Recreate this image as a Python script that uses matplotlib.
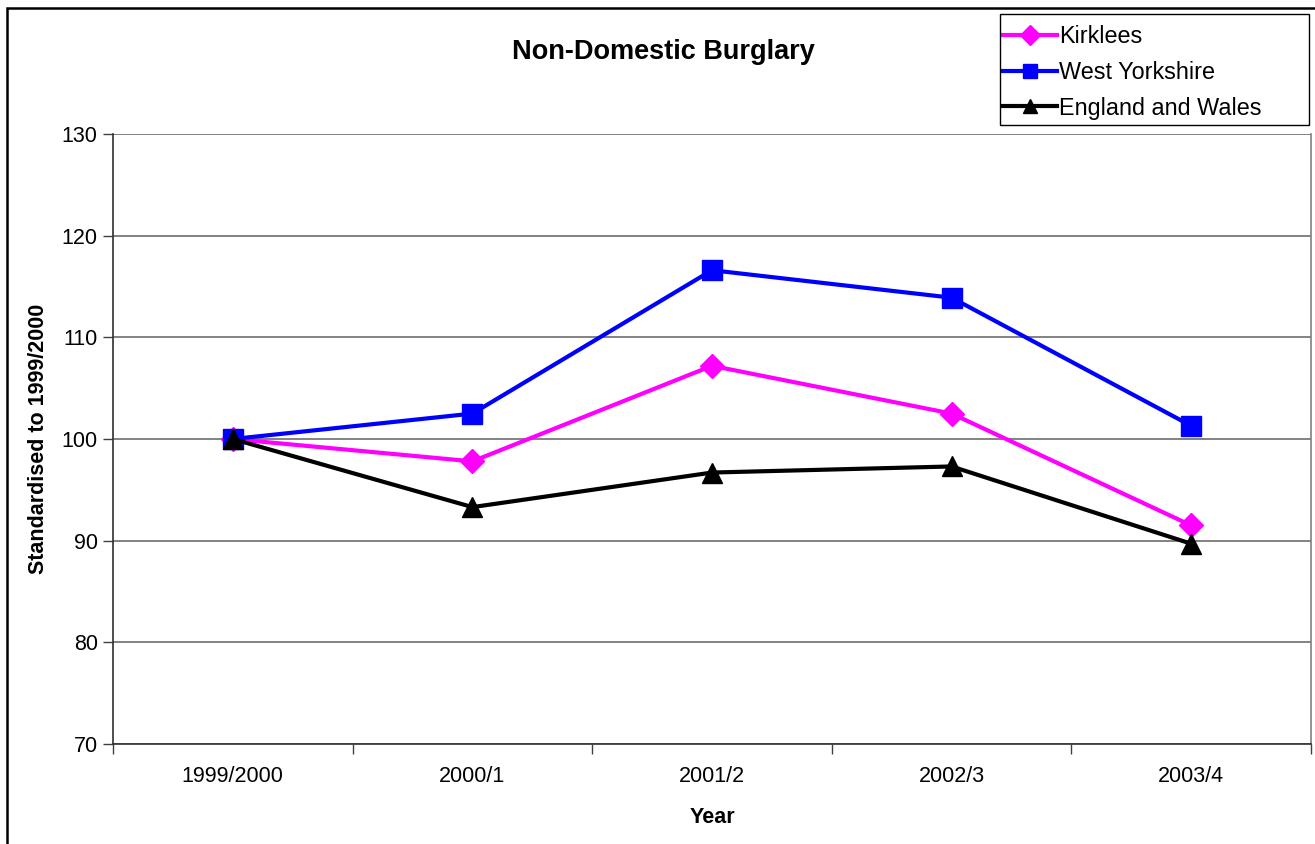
import matplotlib.pyplot as plt
from matplotlib.patches import Rectangle
import numpy as np

plt.rcParams['font.family'] = ['Liberation Sans', 'DejaVu Sans']

# Data
years = ['1999/2000', '2000/1', '2001/2', '2002/3', '2003/4']
kirklees = [100.0, 97.8, 107.2, 102.5, 91.5]
west_yorkshire = [100.0, 102.5, 116.6, 113.9, 101.3]
england_wales = [100.0, 93.3, 96.7, 97.3, 89.7]

fig = plt.figure(figsize=(13.15, 8.44), dpi=100)
ax = fig.add_axes([113 / 1315, 100 / 844, 1198 / 1315, 610 / 844])

x = np.arange(len(years))
ax.plot(x, kirklees, color='#FF00FF', lw=3, marker='D', markersize=12,
        label='Kirklees', zorder=3)
ax.plot(x, west_yorkshire, color='#0000FF', lw=3, marker='s', markersize=14,
        label='West Yorkshire', zorder=3)
ax.plot(x, england_wales, color='black', lw=3, marker='^', markersize=15,
        label='England and Wales', zorder=3)

ax.set_xlim(-0.5, len(years) - 0.5)
ax.set_ylim(70, 130)
ax.set_yticks(range(70, 131, 10))
ax.yaxis.grid(True, color='#606060', lw=1.1)
ax.set_axisbelow(True)

# category labels between boundary ticks
ax.set_xticks(np.arange(-0.5, len(years), 1.0))
ax.set_xticklabels([])
ax.set_xticks(x, minor=True)
ax.set_xticklabels(years, minor=True)
ax.tick_params(axis='x', which='minor', length=0, labelsize=15.5, pad=16)
ax.tick_params(axis='x', which='major', length=7, width=1, color='#404040')
ax.tick_params(axis='y', length=7, width=1, color='#404040', labelsize=15.5, pad=4)

ax.spines['top'].set_visible(False)
ax.spines['right'].set_color('#808080')
ax.spines['right'].set_linewidth(1.2)
for s in ['left', 'bottom']:
    ax.spines[s].set_color('#303030')
    ax.spines[s].set_linewidth(1.2)

ax.set_xlabel('Year', fontsize=15.5, fontweight='bold', labelpad=14)
ax.set_ylabel('Standardised to 1999/2000', fontsize=15.5, fontweight='bold', labelpad=9)

fig.text(663 / 1315, 1 - 52 / 844, 'Non-Domestic Burglary', fontsize=19.5,
         fontweight='bold', ha='center', va='center')

# legend without its own frame; box drawn separately (fixed width like the original)
leg = ax.legend(loc='upper left', bbox_to_anchor=(1003 / 1315, 1 - 25 / 844),
                bbox_transform=fig.transFigure, fontsize=16.8, frameon=False,
                handlelength=2.3, handletextpad=0.1, borderpad=0.0,
                labelspacing=0.55, borderaxespad=0)
for h in leg.legend_handles:
    h.set_markersize(10)
fig.patches.append(Rectangle((1000 / 1315, 1 - 125 / 844), 309 / 1315, 111 / 844,
                             transform=fig.transFigure, fill=False,
                             edgecolor='black', lw=1.0))

# chart area border (cropped at right and bottom)
fig.patches.append(Rectangle((7 / 1315, -0.1), 1.2, 1.1 - 8 / 844,
                             transform=fig.transFigure, fill=False,
                             edgecolor='black', lw=1.8))

fig.savefig('out.png', dpi=100)
